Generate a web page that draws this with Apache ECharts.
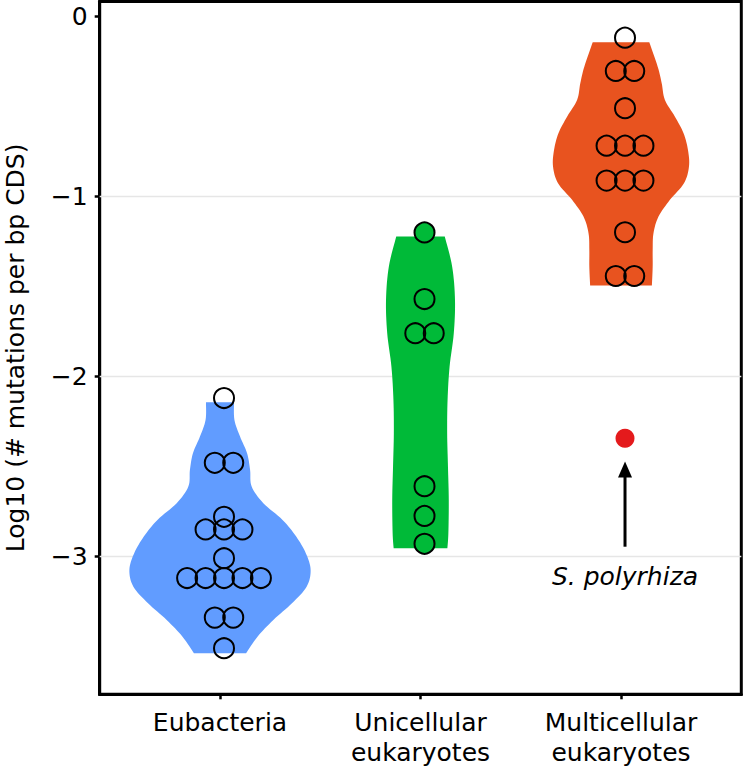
<!DOCTYPE html>
<html>
<head>
<meta charset="utf-8">
<script src="https://cdn.jsdelivr.net/npm/echarts@6/dist/echarts.min.js"></script>
<style>
html,body{margin:0;padding:0;background:#fff;}
#chart{width:744px;height:775px;}
</style>
</head>
<body>
<div id="chart"></div>
<script>
// ---------- data ----------
const categories = ['Eubacteria', 'Unicellular\neukaryotes', 'Multicellular\neukaryotes'];
const yTickValues = [-3, -2, -1, 0];
const gridLineValues = [-3, -2, -1];
const yAxisName = 'Log10 (# mutations per bp CDS)';

const eubacteriaValues = [-2.12, -2.48, -2.48, -2.78, -2.85, -2.85, -2.85, -3.01,
  -3.12, -3.12, -3.12, -3.12, -3.12, -3.34, -3.34, -3.51];
const unicellularValues = [-1.20, -1.57, -1.76, -1.76, -2.61, -2.775, -2.93];
const multicellularValues = [-0.118, -0.303, -0.303, -0.51, -0.718, -0.718, -0.718,
  -0.912, -0.912, -0.912, -1.199, -1.442, -1.442];

// violin outlines: value levels and density half-widths (x units)
const eubacteriaViolinY = [-2.143, -2.242, -2.334, -2.427, -2.519, -2.612, -2.704, -2.797,
  -2.89, -2.982, -3.075, -3.168, -3.26, -3.353, -3.446, -3.538];
const eubacteriaViolinW = [0.070, 0.072, 0.100, 0.135, 0.150, 0.158, 0.216, 0.312,
  0.380, 0.428, 0.452, 0.432, 0.359, 0.266, 0.187, 0.130];
const unicellularViolinY = [-1.223, -1.39, -1.575, -1.76, -1.946, -2.131, -2.316, -2.501,
  -2.686, -2.871, -2.955];
const unicellularViolinW = [0.121, 0.158, 0.172, 0.166, 0.145, 0.135, 0.133, 0.137,
  0.141, 0.139, 0.134];
const multicellularViolinY = [-0.143, -0.279, -0.371, -0.464, -0.557, -0.649, -0.742,
  -0.834, -0.927, -1.019, -1.112, -1.204, -1.297, -1.39, -1.495];
const multicellularViolinW = [0.141, 0.183, 0.203, 0.219, 0.269, 0.312, 0.334, 0.339,
  0.314, 0.244, 0.187, 0.162, 0.158, 0.158, 0.154];

const outlierName = 'S. polyrhiza';
const outlierGroup = 3;
const outlierValue = -2.343;
const arrowFromValue = -2.946;
const arrowToValue = -2.473;
const annotationValue = -3.112;

// ---------- styling ----------
const FONT = '"DejaVu Sans", "Liberation Sans", Arial, sans-serif';
const FS = 25;
const colors = ['#619CFF', '#00BA38', '#E8531F'];
const pointFills = [null, '#00BA38', null];
const outlierColor = '#E41A1C';
const SWARM_STEP = 0.092;
const DODGE = 0.02;

function smoothProfile(ys, ws) {
  const out = [];
  const n = ys.length;
  const P = (i) => [ys[Math.max(0, Math.min(n - 1, i))], ws[Math.max(0, Math.min(n - 1, i))]];
  for (let i = 0; i < n - 1; i++) {
    const p0 = P(i - 1), p1 = P(i), p2 = P(i + 1), p3 = P(i + 2);
    const steps = 8;
    for (let s = 0; s < steps; s++) {
      const t = s / steps, t2 = t * t, t3 = t2 * t;
      const f = (a, b, c, d) => 0.5 * ((2 * b) + (-a + c) * t + (2 * a - 5 * b + 4 * c - d) * t2 + (-a + 3 * b - 3 * c + d) * t3);
      out.push([f(p0[0], p1[0], p2[0], p3[0]), f(p0[1], p1[1], p2[1], p3[1])]);
    }
  }
  out.push([ys[n - 1], ws[n - 1]]);
  return out;
}

function violinSeries(idx, ys, ws) {
  const center = idx + 1;
  return {
    type: 'custom',
    z: 2,
    silent: true,
    data: [[center, ys[0]]],
    renderItem: function (params, api) {
      const prof = smoothProfile(ys, ws);
      const right = prof.map(p => api.coord([center + p[1], p[0]]));
      const left = prof.map(p => api.coord([center - p[1], p[0]])).reverse();
      return {
        type: 'polygon',
        shape: { points: right.concat(left) },
        style: { fill: colors[idx], stroke: null }
      };
    }
  };
}

function swarm(values, center) {
  const counts = {};
  values.forEach(v => { counts[v] = (counts[v] || 0) + 1; });
  const seen = {};
  return values.map(v => {
    const n = counts[v];
    const k = seen[v] = (seen[v] === undefined ? 0 : seen[v] + 1);
    return [center + DODGE + (k - (n - 1) / 2) * SWARM_STEP, v];
  });
}

const groupValues = [eubacteriaValues, unicellularValues, multicellularValues];
const series = [];

// horizontal grid lines
series.push({
  type: 'custom',
  z: 1,
  silent: true,
  data: gridLineValues.map(v => [v]),
  renderItem: function (params, api) {
    const v = api.value(0);
    const a = api.coord([0.4, v]);
    const b = api.coord([3.6, v]);
    return {
      type: 'line',
      shape: { x1: a[0], y1: a[1], x2: b[0], y2: b[1] },
      style: { stroke: '#E6E6E6', lineWidth: 1.5 }
    };
  }
});

series.push(violinSeries(0, eubacteriaViolinY, eubacteriaViolinW));
series.push(violinSeries(1, unicellularViolinY, unicellularViolinW));
series.push(violinSeries(2, multicellularViolinY, multicellularViolinW));

groupValues.forEach((vals, i) => {
  const pts = swarm(vals, i + 1);
  if (pointFills[i]) {
    series.push({
      type: 'scatter', z: 3, silent: true, data: pts, symbol: 'circle', symbolSize: 20,
      itemStyle: { color: pointFills[i], borderWidth: 0, opacity: 1 }
    });
  }
  series.push({
    type: 'scatter', z: 4, silent: true, data: pts, symbol: 'circle', symbolSize: 20,
    itemStyle: { color: 'rgba(0,0,0,0)', borderColor: '#000', borderWidth: 2, opacity: 1 }
  });
});

// outlier point
series.push({
  type: 'scatter', z: 5, silent: true,
  data: [[outlierGroup + DODGE, outlierValue]],
  symbol: 'circle', symbolSize: 19,
  itemStyle: { color: outlierColor, opacity: 1 }
});

// arrow and annotation
series.push({
  type: 'custom', z: 6, silent: true,
  data: [[outlierGroup + DODGE, arrowFromValue, arrowToValue, annotationValue]],
  renderItem: function (params, api) {
    const x = api.value(0);
    const from = api.coord([x, api.value(1)]);
    const tip = api.coord([x, api.value(2)]);
    const lab = api.coord([x, api.value(3)]);
    const headLen = 16, headHalf = 7;
    return {
      type: 'group',
      children: [
        { type: 'line', shape: { x1: from[0], y1: from[1], x2: tip[0], y2: tip[1] + headLen - 2 },
          style: { stroke: '#000', lineWidth: 3 } },
        { type: 'polygon', shape: { points: [[tip[0], tip[1]], [tip[0] - headHalf, tip[1] + headLen], [tip[0] + headHalf, tip[1] + headLen]] },
          style: { fill: '#000' } },
        { type: 'text', x: lab[0], y: lab[1],
          style: { text: outlierName, align: 'center', verticalAlign: 'middle',
            fontFamily: FONT, fontStyle: 'italic', fontSize: FS, fill: '#000' } }
      ]
    };
  }
});

const chart = echarts.init(document.getElementById('chart'), null, { renderer: 'svg' });
chart.setOption({
  animation: false,
  backgroundColor: '#fff',
  grid: {
    left: 99.7, right: 2.7, top: 1.5, bottom: 80.7,
    containLabel: false, outerBoundsMode: 'none',
    show: true, borderColor: '#000', borderWidth: 3, backgroundColor: 'transparent'
  },
  xAxis: {
    type: 'value', min: 0.4, max: 3.6,
    axisLine: { show: true, onZero: false, lineStyle: { color: '#000', width: 3 } },
    splitLine: { show: false },
    axisTick: { show: true, customValues: [1, 2, 3], length: 5, lineStyle: { color: '#000', width: 2.5 } },
    axisLabel: {
      customValues: [1, 2, 3],
      formatter: v => categories[Math.round(v) - 1],
      fontFamily: FONT, fontSize: FS, color: '#000', lineHeight: 30, margin: 13
    }
  },
  yAxis: {
    type: 'value', min: -3.766, max: 0.083,
    name: yAxisName, nameLocation: 'middle', nameGap: 72,
    nameTextStyle: { fontFamily: FONT, fontSize: FS, color: '#000' },
    axisLine: { show: true, onZero: false, lineStyle: { color: '#000', width: 3 } },
    splitLine: { show: false },
    axisTick: { show: true, customValues: yTickValues, length: 5, lineStyle: { color: '#000', width: 2.5 } },
    axisLabel: {
      customValues: yTickValues,
      formatter: v => String(v).replace('-', '\u2212'),
      fontFamily: FONT, fontSize: FS, color: '#000', margin: 12
    }
  },
  series: series
});
</script>
</body>
</html>
